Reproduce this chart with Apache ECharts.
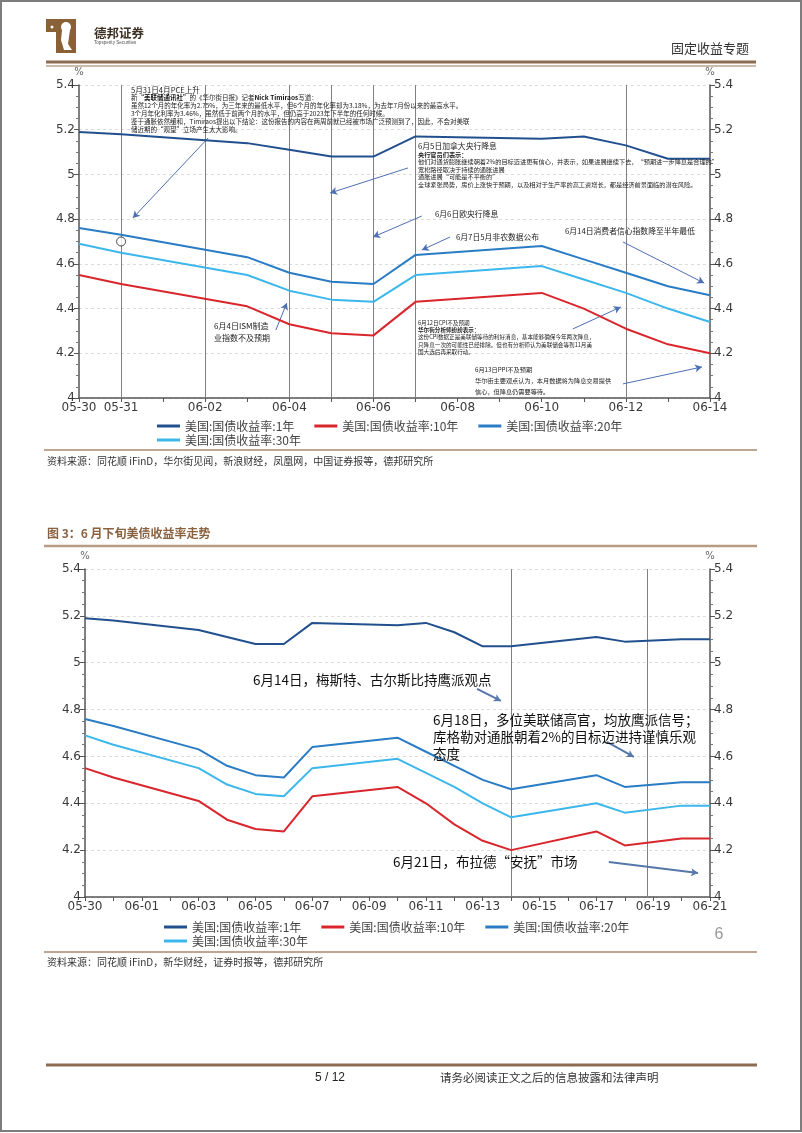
<!DOCTYPE html>
<html><head><meta charset="utf-8">
<script src="https://cdn.jsdelivr.net/npm/echarts@6/dist/echarts.min.js"></script>
<style>html,body{margin:0;padding:0;background:#fff}#c{width:802px;height:1133px}</style>
</head><body><div id="c"></div>
<script>
// ---------- data ----------
const tradeDates = ['05-30','05-31','06-03','06-04','06-05','06-06','06-07','06-10','06-11','06-12','06-13','06-14','06-17','06-18','06-20','06-21'];
const yield1Y  = [5.19,5.18,5.14,5.11,5.08,5.08,5.17,5.16,5.17,5.13,5.07,5.07,5.11,5.09,5.10,5.10];
const yield10Y = [4.55,4.51,4.41,4.33,4.29,4.28,4.43,4.47,4.40,4.31,4.24,4.20,4.28,4.22,4.25,4.25];
const yield20Y = [4.76,4.73,4.63,4.56,4.52,4.51,4.64,4.68,4.62,4.56,4.50,4.46,4.52,4.47,4.49,4.49];
const yield30Y = [4.69,4.65,4.55,4.48,4.44,4.43,4.55,4.59,4.53,4.47,4.40,4.34,4.40,4.36,4.39,4.39];
const seriesNames = ['美国:国债收益率:1年','美国:国债收益率:10年','美国:国债收益率:20年','美国:国债收益率:30年'];
const yMin = 4, yMax = 5.4, yStep = 0.2;
const topStart = '05-30', topEnd = '06-14', bottomEnd = '06-21';
const topEventDates = ['05-31','06-02','06-04','06-05','06-06','06-07','06-12'];
const bottomEventDays = [15, 19.8];
const topCircle = ['05-31', 4.70];

// ---------- helpers ----------
const BASE = Date.UTC(2024,4,30);
function dayOf(md){const p=md.split('-').map(Number);return Math.round((Date.UTC(2024,p[0]-1,p[1])-BASE)/864e5);}
function mdOf(v){const t=new Date(BASE+Math.round(v)*864e5);return String(t.getUTCMonth()+1).padStart(2,'0')+'-'+String(t.getUTCDate()).padStart(2,'0');}
const colors = ['#22508f','#d9262c','#2a7cc4','#3cb7ec'];
const allVals = [yield1Y, yield10Y, yield20Y, yield30Y];
const CJK = '"Noto Sans CJK SC", sans-serif';

function pts(vals, maxDay){
  const out=[];
  tradeDates.forEach((d,i)=>{const x=dayOf(d); if(x<=maxDay) out.push([x, vals[i]]);});
  return out;
}

const topMax = dayOf(topEnd), botMax = dayOf(bottomEnd);

function xAxisCfg(grid, max, fmt){
  return {type:'value', gridIndex:grid, min:0, max:max, interval:1,
    axisLine:{show:true, onZero:false, lineStyle:{color:'#555', width:1.5}},
    axisTick:{show:true, length:4, lineStyle:{color:'#555'}},
    axisLabel:{formatter:fmt, fontSize:12, color:'#3a3a3a', fontFamily:'"DejaVu Sans", sans-serif', margin:4, showMinLabel:true, showMaxLabel:true, hideOverlap:false},
    splitLine:{show:false}};
}
function yAxisCfg(grid, pos){
  return {type:'value', gridIndex:grid, position:pos, min:yMin, max:yMax, interval:yStep,
    name:'%', nameLocation:'end', nameGap:8, nameTextStyle:{fontSize:10, color:'#666', fontFamily:'"DejaVu Sans", sans-serif'},
    axisLine:{show:true, lineStyle:{color:'#555', width:1.5}},
    axisTick:{show:true, length:5, lineStyle:{color:'#555'}},
    minorTick:{show:true, splitNumber:4, length:3, lineStyle:{color:'#777'}},
    axisLabel:{fontSize:12, color:'#3a3a3a', fontFamily:'"DejaVu Sans", sans-serif', margin:4},
    splitLine:{show:pos==='left', lineStyle:{type:[3,3], color:'#dcdcdc', width:1}}};
}

function arrowPairs(list, color, width){
  return {silent:true, symbol:['none','arrow'], symbolSize:[6,7], animation:false,
    label:{show:false}, lineStyle:{color:color, width:width, type:'solid'},
    data:list.map(a=>[{coord:[a[0],a[1]]},{coord:[a[2],a[3]]}])};
}

const topArrows = [
  [3.07,5.163,1.28,4.805],
  [7.82,5.029,5.97,4.917],
  [8.15,4.814,6.99,4.720],
  [8.82,4.720,8.15,4.662],
  [12.93,4.698,14.86,4.514],
  [11.74,4.309,12.88,4.407],
  [12.93,4.063,14.81,4.139],
  [4.68,4.304,4.94,4.425]
];
const bottomArrows = [
  [13.80,4.888,14.64,4.837],
  [18.37,4.662,19.32,4.598],
  [18.44,4.149,21.58,4.102]
];

const series = [];
[0,1].forEach(g=>{
  const maxDay = g===0 ? topMax : botMax;
  allVals.forEach((vals,k)=>{
    const s = {name:seriesNames[k], type:'line', xAxisIndex:g, yAxisIndex:g*2, data:pts(vals,maxDay),
      symbol:'none', showSymbol:false, animation:false, lineStyle:{width:2, color:colors[k]}, itemStyle:{color:colors[k]}, z:5};
    if(k===0){
      const ev = g===0 ? topEventDates.map(dayOf) : bottomEventDays;
      s.markLine = {silent:true, symbol:'none', animation:false, label:{show:false},
        lineStyle:{color:'#808080', width:1, type:'solid'}, data:ev.map(x=>({xAxis:x}))};
    }
    if(k===2){
      s.markLine = g===0 ? arrowPairs(topArrows,'#4d6fb3',1) : arrowPairs(bottomArrows,'#5677aa',2);
    }
    series.push(s);
  });
});
series.push({name:'circle', type:'scatter', xAxisIndex:0, yAxisIndex:0, data:[[dayOf(topCircle[0]), topCircle[1]]],
  symbol:'circle', symbolSize:9, itemStyle:{color:'#fff', borderColor:'#222', borderWidth:1}, z:6, animation:false});

// ---------- graphics ----------
const G = [];
function txt(x,y,text,size,opt){
  opt = opt||{};
  G.push({type:'text', x:x, y:y, silent:true, z:20, style:Object.assign({text:text, fontSize:size, fontFamily:opt.family||CJK,
    fontWeight:opt.weight||'normal', fill:opt.fill||'#222', align:opt.align||'left', verticalAlign:'middle'}, opt.rich?{rich:opt.rich}:{})});
}
function ln(x1,y1,x2,y2,color,w){G.push({type:'line', silent:true, shape:{x1,y1,x2,y2}, style:{stroke:color, lineWidth:w}});}
function rc(x,y,w,h,fill){G.push({type:'rect', silent:true, shape:{x,y,width:w,height:h}, style:{fill:fill}});}

// page border
G.push({type:'rect', silent:true, shape:{x:1,y:1,width:800,height:1130}, style:{fill:'none', stroke:'#7d7d7d', lineWidth:2}});
// logo
rc(46,19,30,13,'#8a6036'); rc(56,19,20,34,'#8a6036');
G.push({type:'circle', silent:true, shape:{cx:66,cy:27,r:5}, style:{fill:'#fff'}});
G.push({type:'polygon', silent:true, shape:{points:[[62,30],[70,30],[68,44],[72,50],[64,50],[61,40]]}, style:{fill:'#fff'}});
G.push({type:'circle', silent:true, shape:{cx:52,cy:27,r:1.5}, style:{fill:'#fff'}});
txt(94,33,'德邦证券',12.5,{weight:'bold', fill:'#3e3226'});
txt(94,42.5,'Topsperity Securities',4.6,{fill:'#555', family:'"Liberation Sans", sans-serif'});
txt(749,48,'固定收益专题',13,{align:'right', fill:'#333'});
ln(46,62,756,62,'#8c6c50',3);
ln(46,66,756,66,'#bba48f',1.5);

// top chart annotations
const sm = 6.5, sm2 = 6.2;
txt(131,90,'5月31日4月PCE上升',7.6);
txt(131,98,'新{b|“美联储通讯社”}的《华尔街日报》记者{b|Nick Timiraos}写道：',sm,{rich:{b:{fontWeight:'bold', fontSize:sm, fontFamily:CJK, fill:'#111'}}});
txt(131,106,'虽然12个月的年化率为2.75%，为三年来的最低水平，但6个月的年化率却为3.18%，为去年7月份以来的最高水平。',sm);
txt(131,114,'3个月年化利率为3.46%，虽然低于前两个月的水平，但仍高于2023年下半年的任何时候。',sm);
txt(131,122,'鉴于通胀依然缓和，Timiraos提出以下结论：这份报告的内容在两周前就已经被市场广泛预测到了，因此，不会对美联',sm);
txt(131,130,'储近期的“观望”立场产生太大影响。',sm);

txt(418,146,'6月5日加拿大央行降息',7.8);
txt(418,154.5,'央行官员们表示：',sm2,{weight:'bold'});
txt(418,162,'他们对通货膨胀继续朝着2%的目标迈进更有信心，并表示，如果进展继续下去，“预期进一步降息是合理的”',sm2);
txt(418,169.5,'宽松路径取决于持续的通胀进展',sm2);
txt(418,177,'通胀进展“可能是不平衡的”',sm2);
txt(418,185,'全球紧张局势，房价上涨快于预期，以及相对于生产率的高工资增长，都是经济前景面临的潜在风险。',sm2);

txt(435,214,'6月6日欧央行降息',7.8);
txt(456,237,'6月7日5月非农数据公布',7.8);
txt(565,231,'6月14日消费者信心指数降至半年最低',7.8);
txt(214,326,'6月4日ISM制造',8);
txt(214,338,'业指数不及预期',8);

const cs = 5.6;
txt(418,323,'6月12日CPI不及预期',cs);
txt(418,329.5,'华尔街分析师纷纷表示：',cs,{weight:'bold'});
txt(418,337,'这份CPI数据正是美联储等待的利好消息，基本能够确保今年两次降息，',cs);
txt(418,344.5,'只降息一次的可能性已经排除。但也有分析师认为美联储会等到11月美',cs);
txt(418,352,'国大选后再采取行动。',cs);
txt(475,370,'6月13日PPI不及预期',6.2);
txt(475,381,'华尔街主要观点认为，本月数据将为降息交易提供',6.2);
txt(475,392,'信心，但降息仍需要等待。',6.2);

// top section footer
ln(44,450,757,450,'#a98a6e',1.5);
txt(47,461,'资料来源：同花顺 iFinD，华尔街见闻，新浪财经，凤凰网，中国证券报等，德邦研究所',10,{fill:'#333'});

// second title
txt(47,533,'图 3：6 月下旬美债收益率走势',12,{weight:'bold', fill:'#8a6240'});
ln(44,546,757,546,'#b89c82',2.5);

// bottom annotations
const bs = 13.5;
txt(253,680,'6月14日，梅斯特、古尔斯比持鹰派观点',bs,{fill:'#111'});
txt(433,720,'6月18日，多位美联储高官，均放鹰派信号；',bs,{fill:'#111'});
txt(433,737,'库格勒对通胀朝着2%的目标迈进持谨慎乐观',bs,{fill:'#111'});
txt(433,754,'态度',bs,{fill:'#111'});
txt(393,862,'6月21日，布拉德“安抚”市场',bs,{fill:'#111'});

txt(719,935,'6',16,{align:'center', fill:'#999', family:'"Liberation Sans Narrow", "Liberation Sans", sans-serif'});
ln(44,952,757,952,'#a98a6e',1.5);
txt(47,962,'资料来源：同花顺 iFinD，新华财经，证券时报等，德邦研究所',10,{fill:'#333'});

// footer
ln(46,1065,757,1065,'#8c6c50',3);
txt(330,1078,'5 / 12',12,{align:'center', fill:'#222', family:'"Liberation Sans", sans-serif'});
txt(440,1078,'请务必阅读正文之后的信息披露和法律声明',11.5,{fill:'#333'});

// ---------- legends ----------
function legendCfg(names, left, top){
  return {data:names, left:left, top:top, orient:'horizontal', padding:0, itemGap:20, itemWidth:23, itemHeight:3,
    icon:'rect', selectedMode:false, textStyle:{fontSize:12, color:'#444', fontFamily:CJK}};
}

const option = {
  animation:false,
  backgroundColor:'#fff',
  grid:[
    {left:79, top:85, width:631, height:313, containLabel:false},
    {left:85, top:569, width:625, height:328, containLabel:false}
  ],
  xAxis:[
    xAxisCfg(0, topMax, v=> (v===0 || v%2===1) ? mdOf(v) : ''),
    xAxisCfg(1, botMax, v=> (v%2===0) ? mdOf(v) : '')
  ],
  yAxis:[yAxisCfg(0,'left'), yAxisCfg(0,'right'), yAxisCfg(1,'left'), yAxisCfg(1,'right')],
  legend:[
    legendCfg(seriesNames.slice(0,3),157,420),
    legendCfg(seriesNames.slice(3),157,434),
    legendCfg(seriesNames.slice(0,3),164,921),
    legendCfg(seriesNames.slice(3),164,935)
  ],
  series:series,
  graphic:G
};
const chart = echarts.init(document.getElementById('c'), null, {renderer:'canvas'});
chart.setOption(option);
</script>
</body></html>
